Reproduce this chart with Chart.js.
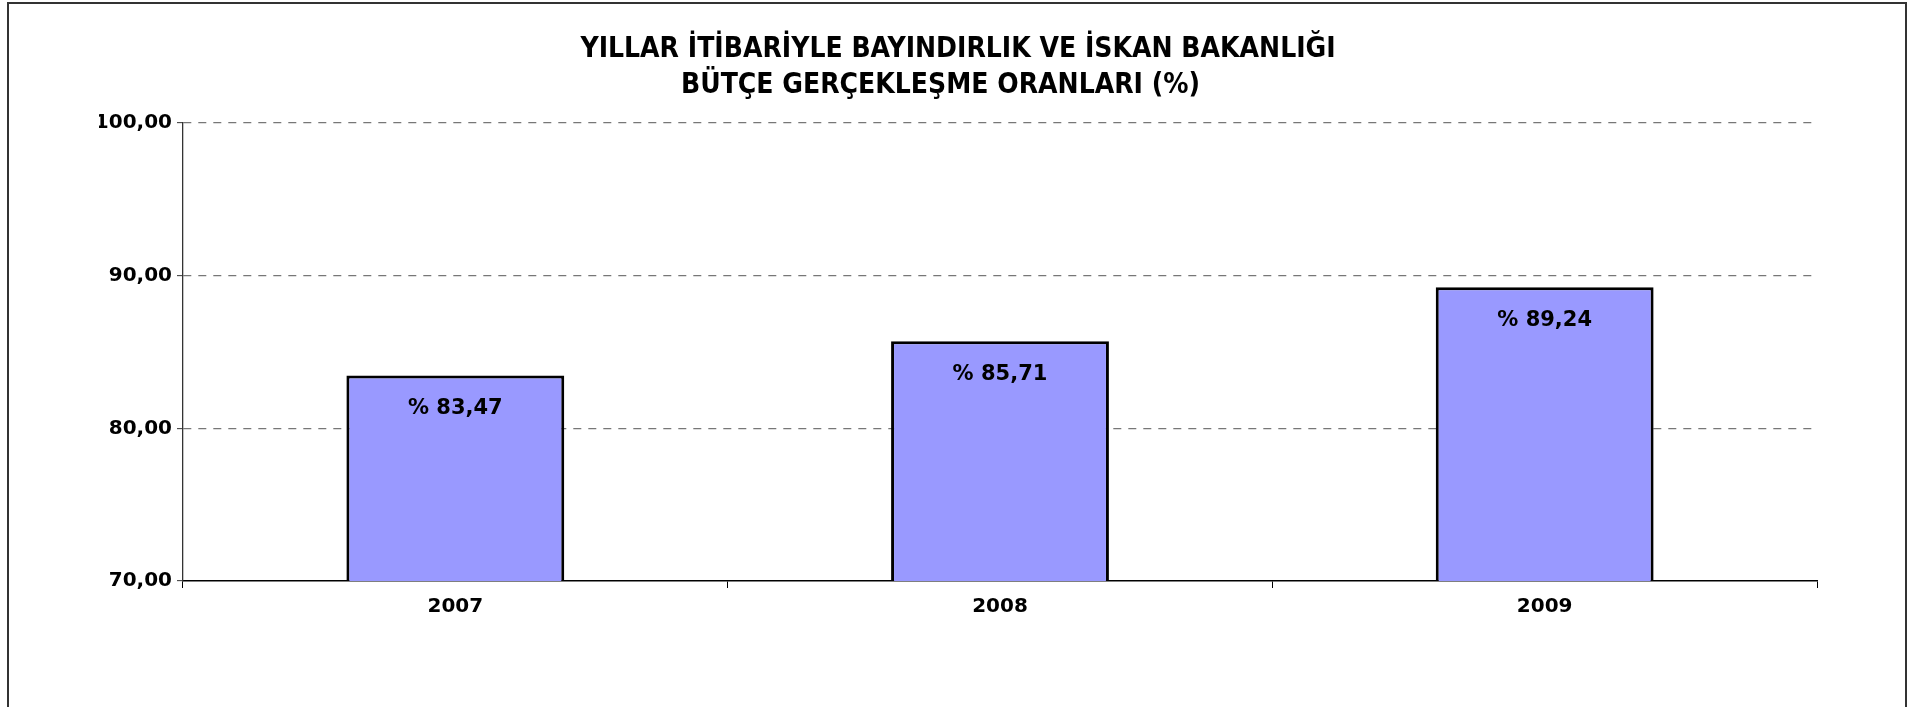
<!DOCTYPE html>
<html>
<head>
<meta charset="utf-8">
<script src="https://cdn.jsdelivr.net/npm/chart.js@4/dist/chart.umd.min.js"></script>
<style>
  html, body { margin: 0; padding: 0; background: #fff; }
  #wrap { position: relative; width: 1916px; height: 707px; overflow: hidden; }
  #frame { position: absolute; left: 7px; top: 2px; width: 1900px; height: 720px;
           border: 2px solid #333; box-sizing: border-box; }
  canvas { position: absolute; left: 0; top: 0; }
</style>
</head>
<body>
<div id="wrap">
  <div id="frame"></div>
  <canvas id="c" width="1916" height="707"></canvas>
</div>
<script>
const categories = ["2007", "2008", "2009"];
const values = [83.47, 85.71, 89.24];
const titleLines = ["YILLAR İTİBARİYLE BAYINDIRLIK VE İSKAN BAKANLIĞI", "BÜTÇE GERÇEKLEŞME ORANLARI (%)    "];
const yMin = 70, yMax = 100, yStep = 10;

const fmt = v => v.toFixed(2).replace('.', ',');

const barLabels = {
  id: 'barLabels',
  afterDatasetsDraw(chart) {
    const ctx = chart.ctx;
    const meta = chart.getDatasetMeta(0);
    ctx.save();
    ctx.font = 'bold 21px "DejaVu Sans", Verdana, sans-serif';
    ctx.fillStyle = '#000';
    ctx.textAlign = 'center';
    ctx.textBaseline = 'middle';
    meta.data.forEach((bar, i) => {
      ctx.fillText('% ' + fmt(values[i]), bar.x, bar.y + 33);
    });
    ctx.restore();
  }
};

new Chart(document.getElementById('c'), {
  type: 'bar',
  data: {
    labels: categories,
    datasets: [{
      data: values,
      backgroundColor: '#9999FF',
      borderColor: '#000000',
      borderWidth: 3,
      borderSkipped: false,
      barPercentage: 0.8,
      categoryPercentage: 0.5
    }]
  },
  options: {
    responsive: false,
    animation: false,
    layout: { padding: { left: 99, right: 99, top: 0, bottom: 0 } },
    plugins: {
      legend: { display: false },
      tooltip: { enabled: false },
      title: {
        display: true,
        text: titleLines,
        color: '#000',
        font: { family: '"DejaVu Sans Condensed", "DejaVu Sans", Tahoma, sans-serif', size: 28, weight: 'bold', lineHeight: 1.27 },
        padding: { top: 32, bottom: 20 }
      }
    },
    scales: {
      x: {
        grid: { display: true, drawOnChartArea: false, drawTicks: true, tickLength: 7, color: '#000', tickColor: '#000', offset: true },
        border: { display: true, color: '#000', width: 1.5 },
        ticks: { color: '#000', padding: 7, font: { family: '"DejaVu Sans", Verdana, sans-serif', size: 20, weight: 'bold' } },
        afterFit(scale) { scale.height = 126; }
      },
      y: {
        min: yMin, max: yMax,
        grid: {
          color: ctx => ctx.tick && ctx.tick.value === yMin ? 'rgba(0,0,0,0)' : '#777777',
          lineWidth: 1.3,
          drawTicks: true, tickLength: 6, tickColor: '#333', tickWidth: 1
        },
        border: { display: true, color: '#333', width: 1.3, dash: [8, 7] },
        ticks: {
          stepSize: yStep, color: '#000', padding: 5,
          font: { family: '"DejaVu Sans", Verdana, sans-serif', size: 20, weight: 'bold' },
          callback: v => fmt(v)
        },
        afterFit(scale) { scale.width = 84; }
      }
    }
  },
  plugins: [barLabels]
});
</script>
</body>
</html>
